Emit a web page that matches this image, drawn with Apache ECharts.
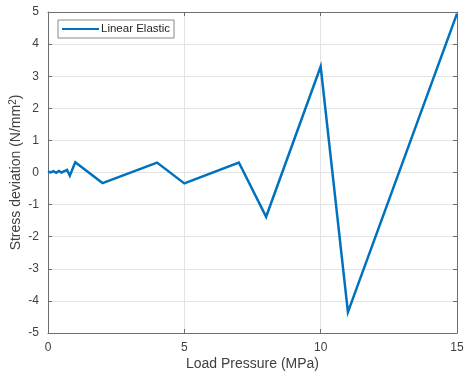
<!DOCTYPE html>
<html>
<head>
<meta charset="utf-8">
<script src="https://cdn.jsdelivr.net/npm/echarts@6/dist/echarts.min.js"></script>
<style>
  html, body { margin: 0; padding: 0; background: #fff; }
  #chart { width: 466px; height: 377px; }
</style>
</head>
<body>
<div id="chart"></div>
<script>
// Load pressure (MPa) and the corresponding stress deviation (N/mm^2)
const loadPressure = [0, 0.1, 0.2, 0.3, 0.4, 0.5, 0.6, 0.7, 0.8, 1, 2, 4, 5, 7, 8, 10, 11, 15];
const stressDeviation = [0.03, 0.0, 0.04, -0.01, 0.05, 0.0, 0.04, 0.08, -0.1, 0.32, -0.33, 0.31, -0.34, 0.31, -1.38, 3.3, -4.35, 4.95];

const xTicks = [0, 5, 10, 15];
const yTicks = [-5, -4, -3, -2, -1, 0, 1, 2, 3, 4, 5];
const seriesName = 'Linear Elastic';

const points = loadPressure.map((x, i) => [x, stressDeviation[i]]);

const font = '"Liberation Sans", Arial, Helvetica, sans-serif';
const axisColor = '#6e6e6e';
const textColor = '#404040';

const chart = echarts.init(document.getElementById('chart'), null, { renderer: 'canvas' });

const baseX = {
  type: 'value',
  min: xTicks[0],
  max: xTicks[xTicks.length - 1],
  interval: 5,
  axisLine: { show: true, onZero: false, lineStyle: { color: axisColor, width: 1 } },
  axisTick: { show: true, inside: true, length: 4, lineStyle: { color: axisColor } },
  splitLine: { show: false },
  axisLabel: { show: false }
};
const baseY = {
  type: 'value',
  min: yTicks[0],
  max: yTicks[yTicks.length - 1],
  interval: 1,
  axisLine: { show: true, onZero: false, lineStyle: { color: axisColor, width: 1 } },
  axisTick: { show: true, inside: true, length: 4, lineStyle: { color: axisColor } },
  splitLine: { show: false },
  axisLabel: { show: false }
};

chart.setOption({
  animation: false,
  backgroundColor: '#ffffff',
  grid: { left: 48, right: 9, top: 12, bottom: 44, containLabel: false, outerBoundsMode: 'none' },
  legend: {
    data: [seriesName],
    left: 58,
    top: 20,
    orient: 'vertical',
    backgroundColor: '#ffffff',
    borderColor: '#8a8a8a',
    borderWidth: 1,
    borderRadius: 0,
    padding: [3, 4, 3, 4],
    itemWidth: 37,
    itemHeight: 12,
    itemGap: 2,
    icon: 'path://M0,5 L37,5 L37,7 L0,7 Z',
    textStyle: { fontFamily: font, fontSize: 11.5, color: '#262626', padding: [0, 0, 0, -3] }
  },
  xAxis: [
    Object.assign({}, baseX, {
      position: 'bottom',
      name: 'Load Pressure (MPa)',
      nameLocation: 'middle',
      nameGap: 24,
      nameMoveOverlap: false,
      nameTextStyle: { fontFamily: font, fontSize: 14, color: textColor },
      axisLabel: { show: true, fontFamily: font, fontSize: 12, color: textColor, margin: 9 },
      splitLine: { show: true, lineStyle: { color: '#e3e3e3', width: 1 } }
    }),
    Object.assign({}, baseX, { position: 'top' })
  ],
  yAxis: [
    Object.assign({}, baseY, {
      position: 'left',
      name: 'Stress deviation (N/mm{sup|2})',
      nameLocation: 'middle',
      nameGap: 24,
      nameMoveOverlap: false,
      nameTextStyle: {
        fontFamily: font, fontSize: 14, color: textColor,
        rich: {
          sup: { fontFamily: font, fontSize: 10, color: textColor, verticalAlign: 'top', padding: [0, 0, 6, 0] }
        }
      },
      axisLabel: { show: true, fontFamily: font, fontSize: 12, color: textColor, margin: 9 },
      splitLine: { show: true, lineStyle: { color: '#e3e3e3', width: 1 } }
    }),
    Object.assign({}, baseY, { position: 'right' })
  ],
  series: [{
    name: seriesName,
    type: 'line',
    xAxisIndex: 0,
    yAxisIndex: 0,
    data: points,
    showSymbol: false,
    symbol: 'none',
    lineStyle: { color: '#0072BD', width: 2.5, join: 'miter' },
    itemStyle: { color: '#0072BD' }
  }]
});
</script>
</body>
</html>
